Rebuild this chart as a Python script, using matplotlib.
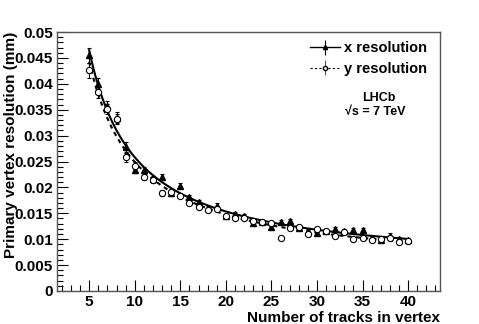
import numpy as np
import matplotlib.pyplot as plt
from matplotlib.ticker import MultipleLocator

plt.rcParams['font.family'] = ['Liberation Sans', 'DejaVu Sans']
plt.rcParams['font.weight'] = 'bold'

# number of tracks in the vertex
n_tracks = np.arange(5, 41)

# resolutions (mm)
x_res = [0.0455, 0.0400, 0.0357, 0.0335, 0.0278, 0.0234, 0.0234, 0.0216,
         0.0220, 0.0189, 0.0203, 0.0182, 0.0171, 0.0161, 0.0165, 0.0145,
         0.0149, 0.0145, 0.0132, 0.0134, 0.0124, 0.0134, 0.0136, 0.0121,
         0.0116, 0.0111, 0.0116, 0.0120, 0.0116, 0.0118, 0.0118, 0.0103,
         0.0098, 0.0107, 0.0100, 0.0098]
y_res = [0.0426, 0.0384, 0.0352, 0.0332, 0.0258, 0.0242, 0.0221, 0.0214,
         0.0189, 0.0192, 0.0184, 0.0170, 0.0163, 0.0156, 0.0158, 0.0145,
         0.0141, 0.0140, 0.0135, 0.0134, 0.0132, 0.0103, 0.0121, 0.0123,
         0.0110, 0.0120, 0.0115, 0.0107, 0.0113, 0.0100, 0.0103, 0.0098,
         0.0101, 0.0103, 0.0095, 0.0097]
x_err = [0.0015, 0.0012, 0.0010, 0.0010, 0.0009, 0.0007, 0.0006, 0.0006,
         0.0006, 0.0005, 0.0005, 0.0004, 0.0004, 0.0004, 0.0004, 0.0004,
         0.0003, 0.0003, 0.0003, 0.0003, 0.0003, 0.0003, 0.0003, 0.0003,
         0.0003, 0.0003, 0.0003, 0.0003, 0.0003, 0.0003, 0.0003, 0.0003,
         0.0003, 0.0004, 0.0004, 0.0004]
y_err = x_err


def fit_power(n, s):
    """fit s = A / n**B + C, scanning B and solving A, C by least squares"""
    n = np.asarray(n, float)
    s = np.asarray(s, float)
    best = None
    for b in np.linspace(0.3, 2.5, 441):
        m = np.column_stack([n ** -b, np.ones_like(n)])
        coef, *_ = np.linalg.lstsq(m, s, rcond=None)
        chi2 = ((m @ coef - s) ** 2).sum()
        if best is None or chi2 < best[0]:
            best = (chi2, coef[0], b, coef[1])
    return best[1:]


fig = plt.figure(figsize=(4.79, 3.24), dpi=100)
ax = fig.add_axes([0.1196, 0.102, 0.7990, 0.7990])

nn = np.linspace(5, 40, 300)
a, b, c = fit_power(n_tracks, x_res)
ax.plot(nn, a / nn ** b + c, color='k', lw=1.5)
a, b, c = fit_power(n_tracks, y_res)
ax.plot(nn, a / nn ** b + c, color='k', lw=1.5, ls=(0, (2, 2)))

ax.errorbar(n_tracks, x_res, yerr=x_err, fmt='^', color='k', ms=4.5,
            elinewidth=0.8, capsize=1.5, capthick=0.8, lw=0)
ax.errorbar(n_tracks, y_res, yerr=y_err, fmt='o', mfc='white', mec='k',
            ecolor='k', ms=4.5, mew=0.8, elinewidth=0.8, capsize=1.5,
            capthick=0.8, lw=0)

# legend handles with line drawn through the marker like ROOT
lx = ax.errorbar([], [], yerr=[], fmt='^-', color='k', ms=3, lw=1.0,
                 elinewidth=0.8)
ly = ax.errorbar([], [], yerr=[], fmt='o--', color='k', mfc='white', ms=3,
                 lw=0.8, elinewidth=0.5, dashes=(2, 2))
ax.legend([lx, ly], ['x resolution', 'y resolution'],
          loc='upper right', bbox_to_anchor=(1.0, 1.015),
          frameon=False, fontsize=10.5, handlelength=2.0,
          handletextpad=0.3, labelspacing=0.45)

ax.text(0.84, 0.745, 'LHCb', transform=ax.transAxes, ha='center',
        va='center', fontsize=9, fontweight='bold')
ax.text(0.83, 0.69, '\u221as = 7 TeV', transform=ax.transAxes, ha='center',
        va='center', fontsize=9, fontweight='bold')

ax.set_xlim(1.5, 43.5)
ax.set_ylim(0, 0.05)
ax.xaxis.set_major_locator(MultipleLocator(5))
ax.xaxis.set_minor_locator(MultipleLocator(1))
ax.yaxis.set_major_locator(MultipleLocator(0.005))
ax.yaxis.set_minor_locator(MultipleLocator(0.001))
ax.yaxis.set_major_formatter(plt.FuncFormatter(lambda v, p: '%g' % round(v, 4)))

ax.tick_params(which='both', direction='in', top=False, right=False,
               labelsize=11, width=0.8)
ax.tick_params(which='major', length=8, pad=3)
ax.tick_params(which='minor', length=4)
for lab in ax.get_xticklabels() + ax.get_yticklabels():
    lab.set_fontweight('bold')
for sp in ax.spines.values():
    sp.set_color('#555555')
    sp.set_linewidth(1.0)

ax.set_xlabel('Number of tracks in vertex', fontsize=11, fontweight='bold',
              ha='right', x=1.0, labelpad=1)
fig.text(0.008, 0.901, 'Primary vertex resolution (mm)', rotation=90,
         ha='left', va='top', fontsize=11, fontweight='bold')

fig.savefig('out.png', dpi=100)
